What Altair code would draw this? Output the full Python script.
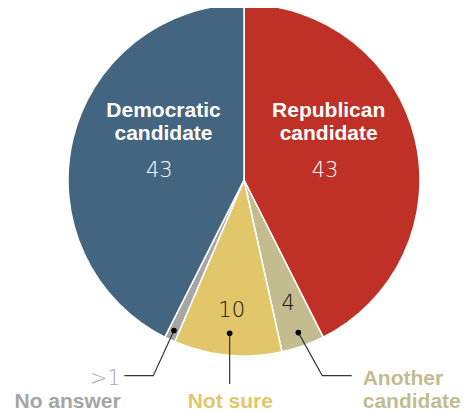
import math
import altair as alt
import pandas as pd

categories = ["Republican candidate", "Another candidate", "Not sure", "No answer", "Democratic candidate"]
values = [43, 4, 10, 1, 43]
inner_labels = ["", "4", "10", "", ""]
colors = ["#bf3026", "#c2bc8f", "#e1c76a", "#a6a6a6", "#446580"]

W, H = 453, 404
CX, CY, R = 236, 172, 176
BOLD = "Liberation Sans"
LIGHT = "DejaVu Sans"

df = pd.DataFrame({
    "category": categories,
    "value": values,
    "order": list(range(len(values))),
    "inner": inner_labels,
})

base = alt.Chart(df).encode(
    theta=alt.Theta("value:Q", stack=True),
    order=alt.Order("order:Q"),
    x=alt.value(CX),
    y=alt.value(CY),
)

pie = base.mark_arc(outerRadius=R, stroke="white", strokeWidth=1.5).encode(
    color=alt.Color("category:N", scale=alt.Scale(domain=categories, range=colors), legend=None)
)

inner = base.mark_text(radius=132, fontSize=21, font=LIGHT, fontWeight=200,
                       color="#111", baseline="middle").encode(text="inner:N")

# leader lines from slice midpoints
total = sum(values)
mids = {}
cum = 0
for c, v in zip(categories, values):
    mids[c] = (cum + v / 2) / total * 2 * math.pi
    cum += v

def polar(cat, r):
    a = mids[cat]
    return CX + r * math.sin(a), CY - r * math.cos(a)

dot_r = {"No answer": 166, "Not sure": 154, "Another candidate": 162}
rows = []
dots = []
nx, ny = polar("No answer", dot_r["No answer"])
dots.append((nx, ny))
rows += [("na", 0, nx, ny), ("na", 1, 145.3, 367.7), ("na", 2, 116.3, 367.7)]
sx, sy = polar("Not sure", dot_r["Not sure"])
dots.append((sx, sy))
rows += [("ns", 0, sx, sy), ("ns", 1, sx, 376)]
ax, ay = polar("Another candidate", dot_r["Another candidate"])
dots.append((ax, ay))
rows += [("ac", 0, ax, ay), ("ac", 1, 314.3, 367.7), ("ac", 2, 343.7, 367.7)]

lines_df = pd.DataFrame(rows, columns=["seg", "i", "x", "y"])
dots_df = pd.DataFrame(dots, columns=["x", "y"])

xs = alt.Scale(domain=[0, W], range=[0, W])
ys = alt.Scale(domain=[0, H], range=[0, H])

leaders = alt.Chart(lines_df).mark_line(color="#333", strokeWidth=1.2).encode(
    x=alt.X("x:Q", scale=xs, axis=None),
    y=alt.Y("y:Q", scale=ys, axis=None),
    detail="seg:N",
    order="i:Q",
)
dot_marks = alt.Chart(dots_df).mark_circle(color="#000", size=32, opacity=1).encode(
    x=alt.X("x:Q", scale=xs, axis=None),
    y=alt.Y("y:Q", scale=ys, axis=None),
)

def label(text, x, y, color, size, font, weight, align="center"):
    return alt.Chart(pd.DataFrame({"t": [text]})).mark_text(
        align=align, baseline="alphabetic", font=font, fontSize=size,
        fontWeight=weight, color=color, lineBreak="\n", lineHeight=23,
    ).encode(x=alt.value(x), y=alt.value(y), text="t:N")

labels = [
    label("Democratic\ncandidate", 155.5, 109, "white", 21, BOLD, "bold"),
    label("43", 151.3, 169.3, "white", 21, LIGHT, 200),
    label("Republican\ncandidate", 320.7, 109, "white", 21, BOLD, "bold"),
    label("43", 317, 169.3, "white", 21, LIGHT, 200),
    label(">1", 112.7, 377, "#a8a8a8", 21, LIGHT, 200, "right"),
    label("No answer", 112.7, 399.5, "#a5a5a5", 21, BOLD, "bold", "right"),
    label("Not sure", 222.3, 399.5, "#e1c76a", 21, BOLD, "bold"),
    label("Another\ncandidate", 354.7, 376.5, "#c2bc8f", 21, BOLD, "bold", "left"),
]

chart = alt.layer(pie, inner, leaders, dot_marks, *labels).properties(
    width=W, height=H, padding=0, autosize=alt.AutoSizeParams(type="none")
).configure_view(stroke=None)

chart.save("out.html", embed_options={"renderer": "svg", "actions": False})
